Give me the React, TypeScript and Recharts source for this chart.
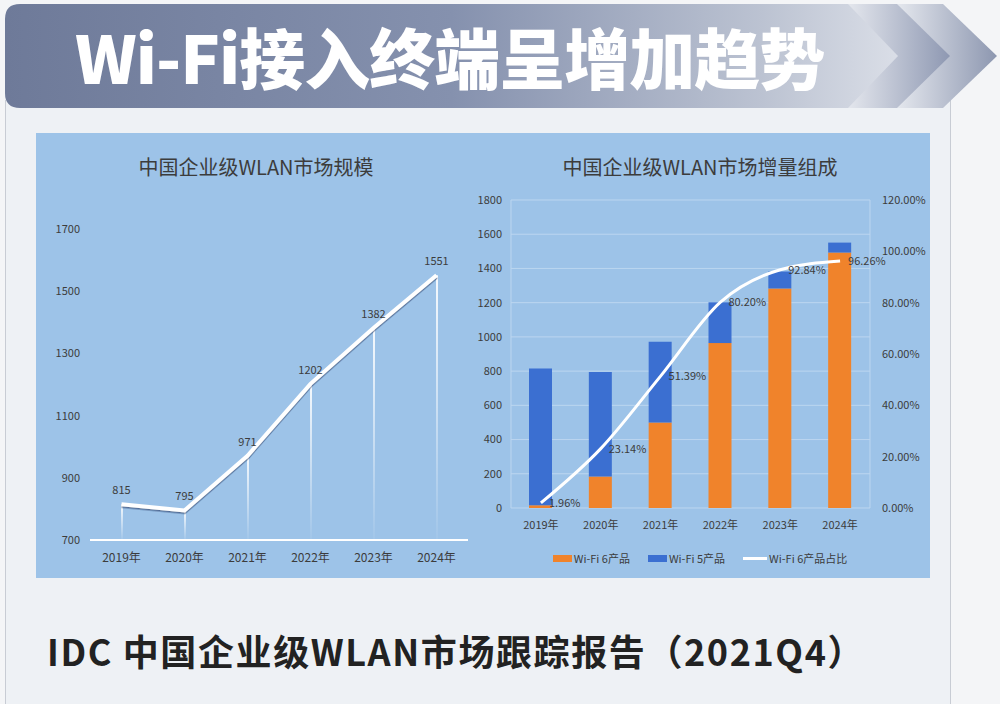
import React from 'react'
import { ComposedChart, Line, Bar, XAxis, YAxis, CartesianGrid, LabelList, Legend } from 'recharts'

const years = ['2019年', '2020年', '2021年', '2022年', '2023年', '2024年']
const marketSize = [815, 795, 971, 1202, 1382, 1551]
const wifi6Units = [16, 184, 499, 964, 1283, 1493]
const wifi5Units = [799, 611, 472, 238, 99, 58]
const wifi6Share = [1.96, 23.14, 51.39, 80.2, 92.84, 96.26]
const sizeTicks = [700, 900, 1100, 1300, 1500, 1700]
const countTicks = [0, 200, 400, 600, 800, 1000, 1200, 1400, 1600, 1800]
const shareTicks = [0, 20, 40, 60, 80, 100, 120]
const legendOrder = ['wifi6', 'wifi5', 'share']

const FONT = '"Noto Sans CJK SC", "Noto Sans", sans-serif'
const TEXT = '#3c3c3c'
const PANEL = '#9dc3e8'
const GRID = '#bcd6f0'
const ORANGE = '#f0832b'
const BLUE = '#3b6fd1'

const sizeData = years.map((year, i) => ({ year, size: marketSize[i] }))
const mixData = years.map((year, i) => ({
  year,
  wifi6: wifi6Units[i],
  wifi5: wifi5Units[i],
  share: wifi6Share[i],
}))

const pct = (v: number) => `${Number(v).toFixed(2)}%`

function MixLegend({ payload }: any) {
  const items = [...(payload || [])].sort(
    (a: any, b: any) => legendOrder.indexOf(a.dataKey) - legendOrder.indexOf(b.dataKey)
  )
  return (
    <div style={{ display: 'flex', justifyContent: 'center', gap: 18, fontSize: 11, color: TEXT, lineHeight: '14px' }}>
      {items.map((p: any) => (
        <div key={p.value} style={{ display: 'flex', alignItems: 'center' }}>
          <span
            style={{
              display: 'inline-block',
              width: p.type === 'line' ? 24 : 19,
              height: p.type === 'line' ? 3 : 7,
              background: p.color,
              marginRight: 2,
            }}
          />
          {p.value}
        </div>
      ))}
    </div>
  )
}

function Banner() {
  return (
    <svg width={1000} height={112} style={{ position: 'absolute', left: 0, top: 0 }}>
      <defs>
        <linearGradient id="bannerGrad" gradientUnits="userSpaceOnUse" x1="5" y1="0" x2="898" y2="0">
          <stop offset="0" stopColor="#6e7a99" />
          <stop offset="0.5" stopColor="#8591ae" />
          <stop offset="0.85" stopColor="#bcc3d2" />
          <stop offset="1" stopColor="#dadee7" />
        </linearGradient>
        <linearGradient id="layer2Grad" gradientUnits="userSpaceOnUse" x1="850" y1="0" x2="950" y2="0">
          <stop offset="0" stopColor="#e2e5ec" />
          <stop offset="1" stopColor="#8e98b2" />
        </linearGradient>
        <linearGradient id="layer3Grad" gradientUnits="userSpaceOnUse" x1="895" y1="0" x2="997" y2="0">
          <stop offset="0" stopColor="#e6e9ef" />
          <stop offset="1" stopColor="#8d97b0" />
        </linearGradient>
      </defs>
      <path d="M20 4 H943 L997 56 L943 108 H20 Z" fill="url(#layer3Grad)" />
      <path d="M20 4 H897 L950 56 L897 108 H20 Z" fill="url(#layer2Grad)" />
      <path d="M20 4 H848 L898 56 L848 108 H20 Q5 108 5 93 V19 Q5 4 20 4 Z" fill="url(#bannerGrad)" />
      <text
        x={75}
        y={84}
        fill="#fff"
        fontSize={66}
        fontWeight={900}
        fontFamily={FONT}
        style={{ letterSpacing: '-1px' }}
      >
        Wi-Fi接入终端呈增加趋势
      </text>
    </svg>
  )
}

export default function App() {
  return (
    <div
      style={{
        position: 'absolute',
        left: 0,
        top: 0,
        width: 1000,
        height: 704,
        background: '#f4f5f7',
        fontFamily: FONT,
        overflow: 'hidden',
      }}
    >
      <div
        style={{
          position: 'absolute',
          left: 5,
          top: 100,
          width: 944,
          height: 604,
          background: '#eef1f5',
          borderLeft: '1px solid #c8ccd4',
          borderRight: '1px solid #c8ccd4',
        }}
      />
      <Banner />

      <div style={{ position: 'absolute', left: 36, top: 133, width: 894, height: 445, background: PANEL }} />

      <div style={{ position: 'absolute', left: 36, top: 152, width: 440, textAlign: 'center', fontSize: 20, color: TEXT }}>
        中国企业级WLAN市场规模
      </div>
      <div style={{ position: 'absolute', left: 36, top: 133 }}>
        <ComposedChart width={440} height={445} data={sizeData} margin={{ top: 96, right: 8, bottom: 8, left: 0 }}>
          <defs>
            <linearGradient id="dropGrad" x1="0" y1="0" x2="0" y2="1">
              <stop offset="0" stopColor="#ffffff" stopOpacity={0.9} />
              <stop offset="1" stopColor="#ffffff" stopOpacity={0.05} />
            </linearGradient>
            <filter id="lineShadow" x="-5%" y="-10%" width="110%" height="130%">
              <feDropShadow dx="0" dy="1.5" stdDeviation="0.6" floodColor="#1d3560" floodOpacity="0.6" />
            </filter>
          </defs>
          <XAxis
            dataKey="year"
            axisLine={{ stroke: '#ffffff', strokeWidth: 2 }}
            tickLine={false}
            tickMargin={7}
            tick={{ fill: TEXT, fontSize: 12 }}
          />
          <YAxis
            domain={[700, 1700]}
            ticks={sizeTicks}
            axisLine={false}
            tickLine={false}
            width={54}
            tickMargin={4}
            tick={{ fill: TEXT, fontSize: 11 }}
          />
          <Bar dataKey="size" barSize={2} fill="url(#dropGrad)" isAnimationActive={false} />
          <Line
            dataKey="size"
            type="linear"
            stroke="#ffffff"
            strokeWidth={4}
            dot={false}
            filter="url(#lineShadow)"
            isAnimationActive={false}
          >
            <LabelList dataKey="size" position="top" offset={10} fill={TEXT} fontSize={11} />
          </Line>
        </ComposedChart>
      </div>

      <div style={{ position: 'absolute', left: 470, top: 152, width: 460, textAlign: 'center', fontSize: 20, color: TEXT }}>
        中国企业级WLAN市场增量组成
      </div>
      <div style={{ position: 'absolute', left: 470, top: 133 }}>
        <ComposedChart width={460} height={445} data={mixData} margin={{ top: 67, right: 0, bottom: 40, left: 0 }}>
          <CartesianGrid vertical={false} stroke={GRID} yAxisId="count" />
          <XAxis
            dataKey="year"
            axisLine={false}
            tickLine={false}
            tickMargin={7}
            tick={{ fill: TEXT, fontSize: 11 }}
          />
          <YAxis
            yAxisId="count"
            domain={[0, 1800]}
            ticks={countTicks}
            axisLine={{ stroke: GRID }}
            tickLine={false}
            width={41}
            tickMargin={3}
            tick={{ fill: TEXT, fontSize: 11 }}
          />
          <YAxis
            yAxisId="share"
            orientation="right"
            domain={[0, 120]}
            ticks={shareTicks}
            tickFormatter={pct}
            axisLine={{ stroke: GRID }}
            tickLine={false}
            width={60}
            tickMargin={6}
            tick={{ fill: TEXT, fontSize: 11 }}
          />
          <Legend
            content={<MixLegend />}
            verticalAlign="middle"
            align="center"
            wrapperStyle={{ top: 418, left: 0, width: 460 }}
          />
          <Bar yAxisId="count" dataKey="wifi6" name="Wi-Fi 6产品" stackId="a" fill={ORANGE} barSize={23} isAnimationActive={false} />
          <Bar yAxisId="count" dataKey="wifi5" name="Wi-Fi 5产品" stackId="a" fill={BLUE} barSize={23} isAnimationActive={false} />
          <Line
            yAxisId="share"
            dataKey="share"
            name="Wi-Fi 6产品占比"
            type="monotone"
            stroke="#ffffff"
            strokeWidth={3}
            dot={false}
            legendType="line"
            isAnimationActive={false}
          >
            <LabelList dataKey="share" position="right" offset={8} formatter={pct} fill={TEXT} fontSize={11} />
          </Line>
        </ComposedChart>
      </div>

      <div
        style={{
          position: 'absolute',
          left: 47,
          top: 624,
          fontSize: 36,
          fontWeight: 700,
          color: '#222',
          letterSpacing: '1.6px',
          whiteSpace: 'nowrap',
        }}
      >
        IDC 中国企业级WLAN市场跟踪报告（2021Q4）
      </div>
    </div>
  )
}
